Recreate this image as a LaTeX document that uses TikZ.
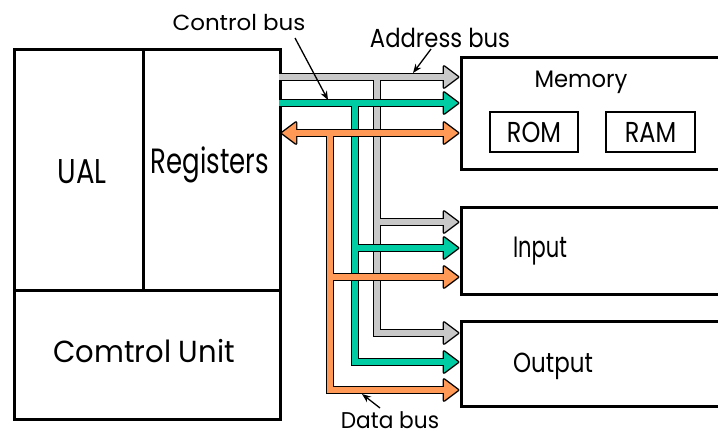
\documentclass[tikz,border=0pt]{standalone}
\usepackage{fontspec}
\setmainfont{Poppins}
\usetikzlibrary{arrows.meta}
\definecolor{busgray}{RGB}{200,200,200}
\definecolor{busgreen}{RGB}{0,204,163}
\definecolor{busorange}{RGB}{255,153,85}
\newcommand\lbl[3]{\scalebox{1}[#2]{\fontsize{#1}{#1}\selectfont #3}}
\def\hdR#1{([xshift=-14pt,yshift=10.5pt]#1) -- (#1) -- ([xshift=-14pt,yshift=-10.5pt]#1) -- cycle}
\def\hdL#1{([xshift=14pt,yshift=10.5pt]#1) -- (#1) -- ([xshift=14pt,yshift=-10.5pt]#1) -- cycle}
\begin{document}
\begin{tikzpicture}[x=1pt,y=-1pt,
  box/.style={draw=black, line width=2.7pt, inner sep=0pt, anchor=north west},
  smallbox/.style={draw=black, line width=2.2pt, inner sep=0pt},
  txt/.style={anchor=base, inner sep=0pt},
  outer/.style={line width=8.6pt, black},
  inner/.style={line width=5.2pt},
  headout/.style={fill=black, draw=black, line width=2.8pt, line join=round},
  callout/.style={line width=1.3pt, -{Stealth[length=9pt,width=7pt]}}]
\useasboundingbox (0,0) rectangle (718,437);

% CPU blocks
\node[box, minimum width=129pt, minimum height=241pt] (ual) at (13,48) {};
\node[box, minimum width=137pt, minimum height=241pt] (regs) at (142,48) {};
\node[box, minimum width=266pt, minimum height=129pt] (cu) at (13,289) {};
% right blocks
\node[box, minimum width=261pt, minimum height=112pt] (mem) at (460,56) {};
\node[box, minimum width=261pt, minimum height=87pt] (inp) at (460,206) {};
\node[box, minimum width=261pt, minimum height=85pt] (outp) at (460,320) {};
\node[smallbox, minimum width=88pt, minimum height=40pt] (rom) at (534,132) {\lbl{24}{1.2}{ROM}};
\node[smallbox, minimum width=89pt, minimum height=40pt] (ram) at (650.5,132) {\lbl{24}{1.2}{RAM}};

% texts
\node[txt] (tual) at (82,183) {\lbl{27.5}{1.25}{UAL}};
\node[txt] (tregs) at (210,173) {\lbl{26}{1.35}{Registers}};
\node[txt] (tcu) at (144,362) {\lbl{29}{1.05}{Comtrol Unit}};
\node[txt] (tmem) at (581,87) {\lbl{22.7}{1.05}{Memory}};
\node[txt] (tinp) at (540,257) {\lbl{21}{1.4}{Input}};
\node[txt] (tout) at (553,372) {\lbl{23}{1.2}{Output}};
\node[txt] (tctl) at (239,30) {\lbl{23}{0.95}{Control bus}};
\node[txt] (tadr) at (440,47) {\lbl{22.7}{1.15}{Address bus}};
\node[txt] (tdat) at (390,428) {\lbl{21.7}{1.05}{Data bus}};

% bus coordinates
\coordinate (gS) at (279,77);   \coordinate (gM) at (458,77);
\coordinate (gJ) at (377,77);   \coordinate (gC) at (377,333);
\coordinate (gI0) at (377,222); \coordinate (gI) at (458,222);
\coordinate (gO) at (458,333);
\coordinate (cS) at (279,103);  \coordinate (cM) at (458,103);
\coordinate (cJ) at (355,103);  \coordinate (cC) at (355,362);
\coordinate (cI0) at (355,248); \coordinate (cI) at (458,248);
\coordinate (cO) at (458,362);
\coordinate (dS) at (282,133);  \coordinate (dM) at (458,133);
\coordinate (dJ) at (330,133);  \coordinate (dC) at (330,390);
\coordinate (dI0) at (330,277); \coordinate (dI) at (458,277);
\coordinate (dO) at (458,390);

% address bus (gray)
\draw[outer] (gS) -- ([xshift=-12pt]gM) (gJ) -- (gC) -- ([xshift=-12pt]gO) (gI0) -- ([xshift=-12pt]gI);
\filldraw[headout] \hdR{gM} \hdR{gI} \hdR{gO};
\draw[inner, busgray] (gS) -- ([xshift=-10pt]gM) (gJ) -- (gC) -- ([xshift=-10pt]gO) (gI0) -- ([xshift=-10pt]gI);
\fill[busgray] \hdR{gM} \hdR{gI} \hdR{gO};

% control bus (green)
\draw[outer] (cS) -- ([xshift=-12pt]cM) (cJ) -- (cC) -- ([xshift=-12pt]cO) (cI0) -- ([xshift=-12pt]cI);
\filldraw[headout] \hdR{cM} \hdR{cI} \hdR{cO};
\draw[inner, busgreen] (cS) -- ([xshift=-10pt]cM) (cJ) -- (cC) -- ([xshift=-10pt]cO) (cI0) -- ([xshift=-10pt]cI);
\fill[busgreen] \hdR{cM} \hdR{cI} \hdR{cO};

% data bus (orange)
\draw[outer] ([xshift=12pt]dS) -- ([xshift=-12pt]dM) (dJ) -- (dC) -- ([xshift=-12pt]dO) (dI0) -- ([xshift=-12pt]dI);
\filldraw[headout] \hdL{dS} \hdR{dM} \hdR{dI} \hdR{dO};
\draw[inner, busorange] ([xshift=10pt]dS) -- ([xshift=-10pt]dM) (dJ) -- (dC) -- ([xshift=-10pt]dO) (dI0) -- ([xshift=-10pt]dI);
\fill[busorange] \hdL{dS} \hdR{dM} \hdR{dI} \hdR{dO};

% callouts
\coordinate (ctlA) at (295,38);  \coordinate (ctlB) at (328,100);
\coordinate (adrA) at (431,49);  \coordinate (adrB) at (413,73);
\coordinate (datA) at (380,408); \coordinate (datB) at (362,394);
\draw[callout] (ctlA) -- (ctlB);
\draw[callout] (adrA) -- (adrB);
\draw[callout] (datA) -- (datB);
\end{tikzpicture}
\end{document}
